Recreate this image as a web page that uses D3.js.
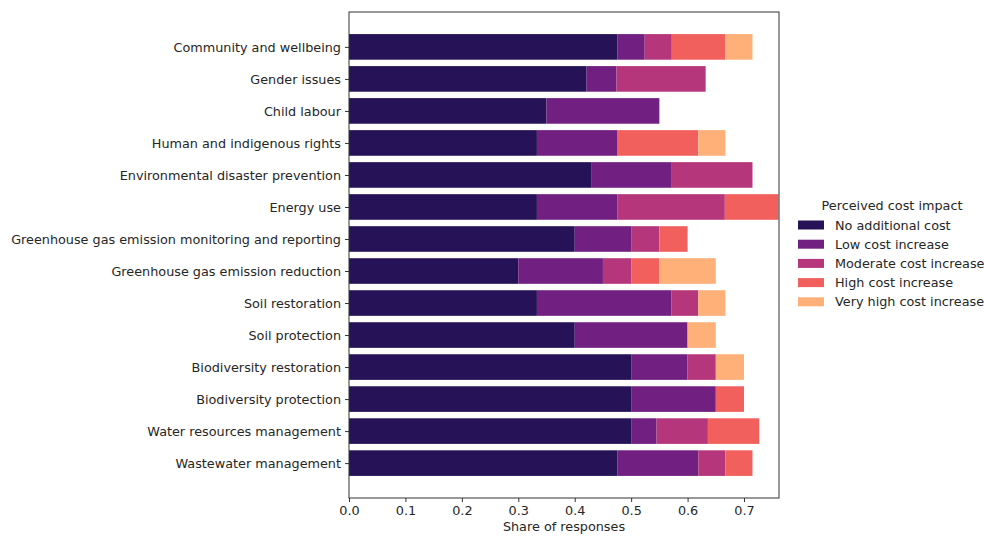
<!DOCTYPE html>
<html><head><meta charset="utf-8">
<script src="https://cdn.jsdelivr.net/npm/d3@7"></script>
<style>
html,body{margin:0;padding:0;background:#fff;}
svg{display:block;font-family:"DejaVu Sans",sans-serif;}
</style></head>
<body><svg id="c" width="984" height="537"></svg>
<script>
const categories = ["Community and wellbeing","Gender issues","Child labour","Human and indigenous rights","Environmental disaster prevention","Energy use","Greenhouse gas emission monitoring and reporting","Greenhouse gas emission reduction","Soil restoration","Soil protection","Biodiversity restoration","Biodiversity protection","Water resources management","Wastewater management"];
const seriesNames = ["No additional cost","Low cost increase","Moderate cost increase","High cost increase","Very high cost increase"];
const noAdditional = [0.476,0.421,0.35,0.333,0.429,0.333,0.40,0.30,0.333,0.40,0.50,0.50,0.50,0.476];
const lowIncrease = [0.048,0.053,0.20,0.143,0.143,0.143,0.10,0.15,0.238,0.20,0.10,0.15,0.045,0.143];
const moderateIncrease = [0.048,0.158,0,0,0.143,0.190,0.05,0.05,0.048,0,0.05,0,0.091,0.048];
const highIncrease = [0.095,0,0,0.143,0,0.095,0.05,0.05,0,0,0,0.05,0.091,0.048];
const veryHighIncrease = [0.048,0,0,0.048,0,0,0,0.10,0.048,0.05,0.05,0,0,0];
const xTicks = [0,0.1,0.2,0.3,0.4,0.5,0.6,0.7];
const colors = ["#261256","#711f81","#b5367a","#f1605d","#feb078"];
const xMax = 0.762;

const seriesVals = [noAdditional,lowIncrease,moderateIncrease,highIncrease,veryHighIncrease];
const rows = categories.map((c,i)=>{const o={cat:c}; seriesNames.forEach((s,k)=>o[s]=seriesVals[k][i]); return o;});
const stacked = d3.stack().keys(seriesNames)(rows);

const svg = d3.select("#c");
const L=349, R=779, T=12, B=498;
const FS = 12.8;
const x = d3.scaleLinear().domain([0,xMax]).range([L,R]);
const n = categories.length;
const y = d3.scaleLinear().domain([-0.4-0.69, n-1+0.4+0.69]).range([T,B]);
const bh = y(0.8)-y(0);

svg.append("defs").append("clipPath").attr("id","clip").append("rect")
  .attr("x",L).attr("y",T).attr("width",R-L).attr("height",B-T);

const g = svg.append("g").attr("clip-path","url(#clip)");
stacked.forEach((layer,k)=>{
  g.selectAll(null).data(layer).enter().append("rect")
    .attr("x",d=>x(d[0])).attr("width",d=>Math.max(0,x(d[1])-x(d[0])))
    .attr("y",(d,i)=>y(i)-bh/2).attr("height",bh)
    .attr("fill",colors[k]);
});

// frame
svg.append("rect").attr("x",L).attr("y",T).attr("width",R-L).attr("height",B-T)
  .attr("fill","none").attr("stroke","#333").attr("stroke-width",1);

// x axis
const xa = svg.append("g").attr("transform",`translate(0,${B})`)
  .call(d3.axisBottom(x).tickValues(xTicks).tickFormat(d3.format(".1f")).tickSize(4).tickPadding(4));
xa.select(".domain").remove();
xa.selectAll("line").attr("stroke","#333");
xa.selectAll("text").attr("font-size",FS).attr("fill","#262626").attr("font-family","DejaVu Sans");

svg.append("text").attr("x",(L+R)/2).attr("y",531).attr("text-anchor","middle")
  .attr("font-size",FS).attr("fill","#262626").text("Share of responses");

// y axis
const ya = svg.append("g").attr("transform",`translate(${L},0)`)
  .call(d3.axisLeft(y).tickValues(d3.range(n)).tickFormat(i=>categories[i]).tickSize(4).tickPadding(4));
ya.select(".domain").remove();
ya.selectAll("line").attr("stroke","#333");
ya.selectAll("text").attr("font-size",FS).attr("fill","#262626").attr("font-family","DejaVu Sans");

// legend
const lg = svg.append("g");
lg.append("text").attr("x",892).attr("y",210).attr("text-anchor","middle")
  .attr("font-size",FS).attr("fill","#262626").text("Perceived cost impact");
seriesNames.forEach((s,k)=>{
  const yy = 225 + k*19.2;
  lg.append("rect").attr("x",798).attr("y",yy-4.5).attr("width",26).attr("height",9).attr("fill",colors[k]);
  lg.append("text").attr("x",835).attr("y",yy+4.6).attr("font-size",FS).attr("fill","#262626").text(s);
});
</script></body></html>
